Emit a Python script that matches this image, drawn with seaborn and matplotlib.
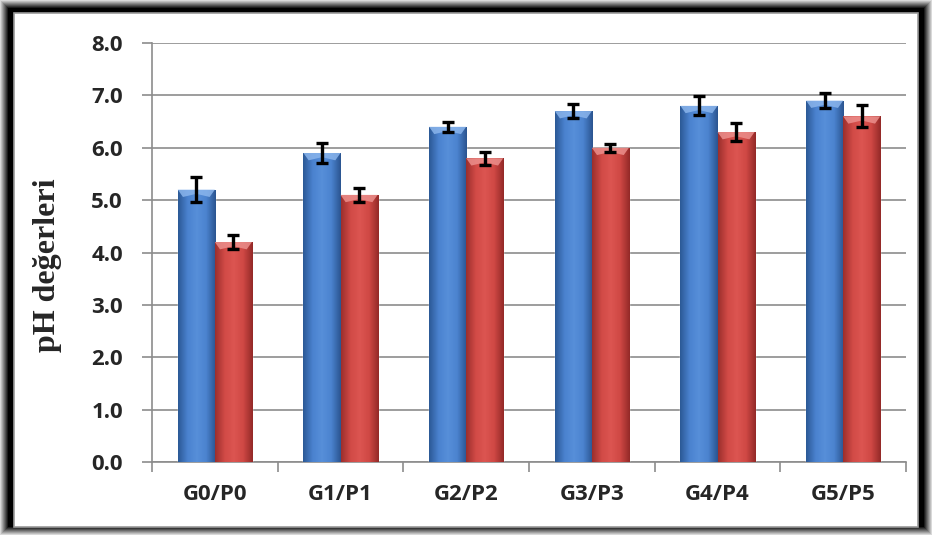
import numpy as np
import pandas as pd
import matplotlib
matplotlib.use("Agg")
import matplotlib.pyplot as plt
from matplotlib.patches import Rectangle, Polygon
from matplotlib.colors import LinearSegmentedColormap
import seaborn as sns

# data
gruplar = ["G0/P0", "G1/P1", "G2/P2", "G3/P3", "G4/P4", "G5/P5"]
ph_g = [5.2, 5.9, 6.4, 6.7, 6.8, 6.9]
ph_p = [4.2, 5.1, 5.8, 6.0, 6.3, 6.6]
err_g = [0.24, 0.19, 0.10, 0.14, 0.18, 0.15]
err_p = [0.13, 0.13, 0.12, 0.08, 0.17, 0.21]
y_ticks = [0.0, 1.0, 2.0, 3.0, 4.0, 5.0, 6.0, 7.0, 8.0]

df = pd.DataFrame({
    "grup": gruplar * 2,
    "ph": ph_g + ph_p,
    "seri": ["G"] * len(gruplar) + ["P"] * len(gruplar),
})

sns.set_style("white")
plt.rcParams["font.family"] = ["Open Sans", "DejaVu Sans"]

W, H = 932, 535
fig = plt.figure(figsize=(W / 100, H / 100), dpi=100)
fig.patch.set_facecolor("white")

# frame with soft black border
for i in range(14):
    g = 0.85 - 0.85 * min(1, i / 8)
    fig.add_artist(Rectangle((i / W, i / H), 1 - 2 * i / W, 1 - 2 * i / H,
                             transform=fig.transFigure, facecolor=(g, g, g),
                             edgecolor="none", zorder=-10))
fig.add_artist(Rectangle((14 / W, 8 / H), 1 - 28 / W, 1 - 21 / H,
                         transform=fig.transFigure, facecolor="white",
                         edgecolor="#9a9a9a", linewidth=1.2, zorder=-9))

ax = fig.add_axes([152 / W, 1 - 462 / H, (906 - 152) / W, (462 - 43) / H])
ax.set_facecolor("none")

sns.barplot(data=df, x="grup", y="ph", hue="seri", palette=["#4a7fc8", "#d04542"],
            width=0.59, errorbar=None, legend=False, ax=ax, zorder=3)

cmaps = {
    0: LinearSegmentedColormap.from_list("b", ["#2c5996", "#4a82cf", "#578fd9", "#4b83cf", "#2b5591"]),
    1: LinearSegmentedColormap.from_list("r", ["#9c2f2d", "#d14a46", "#dc5551", "#cf4844", "#942a28"]),
}
tops = {0: "#8ab5ec", 1: "#ec8f8c"}
errs = [err_g, err_p]
grad = np.linspace(0, 1, 64).reshape(1, -1)

bar_conts = list(ax.containers)
for k, cont in enumerate(bar_conts):
    xs, ys = [], []
    for bar in cont.patches:
        x0, w, h = bar.get_x(), bar.get_width(), bar.get_height()
        im = ax.imshow(grad, cmap=cmaps[k], aspect="auto",
                       extent=[x0, x0 + w, 0, h], zorder=4)
        im.set_clip_path(bar)
        d = 0.14 * w
        ax.add_patch(Polygon([[x0, h], [x0 + w, h], [x0 + w - d, h - 0.14],
                              [x0 + w / 2, h - 0.08], [x0 + d, h - 0.14]],
                             closed=True, facecolor=tops[k], edgecolor="none",
                             alpha=0.85, zorder=5))
        xs.append(x0 + w / 2)
        ys.append(h)
    ax.errorbar(xs, ys, yerr=errs[k], fmt="none", ecolor="black",
                elinewidth=2.4, capsize=4.6, capthick=2.4, zorder=6)

ax.set_xlim(-0.5, len(gruplar) - 0.5)
ax.set_ylim(0, 8)
ax.set_yticks(y_ticks)
ax.set_yticklabels([f"{v:.1f}" for v in y_ticks], fontsize=16, fontweight="bold")
ax.set_xticks(range(len(gruplar)))
ax.set_xticklabels(gruplar, fontsize=16, fontweight="bold")
ax.tick_params(axis="x", length=0, pad=16)
ax.tick_params(axis="y", length=7, width=1.2, color="#8c8c8c", direction="out", pad=14, left=True)

# category boundary ticks on x axis
ax.set_xticks(np.arange(-0.5, len(gruplar), 1.0), minor=True)
ax.tick_params(axis="x", which="minor", length=7, width=1.2, color="#8c8c8c", bottom=True)

ax.yaxis.grid(True, color="#8c8c8c", linewidth=1.2, zorder=0)
ax.set_axisbelow(True)
for s in ["top", "right"]:
    ax.spines[s].set_visible(False)
for s in ["left", "bottom"]:
    ax.spines[s].set_color("#8c8c8c")
    ax.spines[s].set_linewidth(1.2)

ax.set_xlabel("")
ax.set_ylabel("pH değerleri", fontsize=23, fontweight="bold",
              family="Liberation Serif")
ax.yaxis.set_label_coords(-0.12, 0.47)

fig.savefig("out.png", dpi=100)
